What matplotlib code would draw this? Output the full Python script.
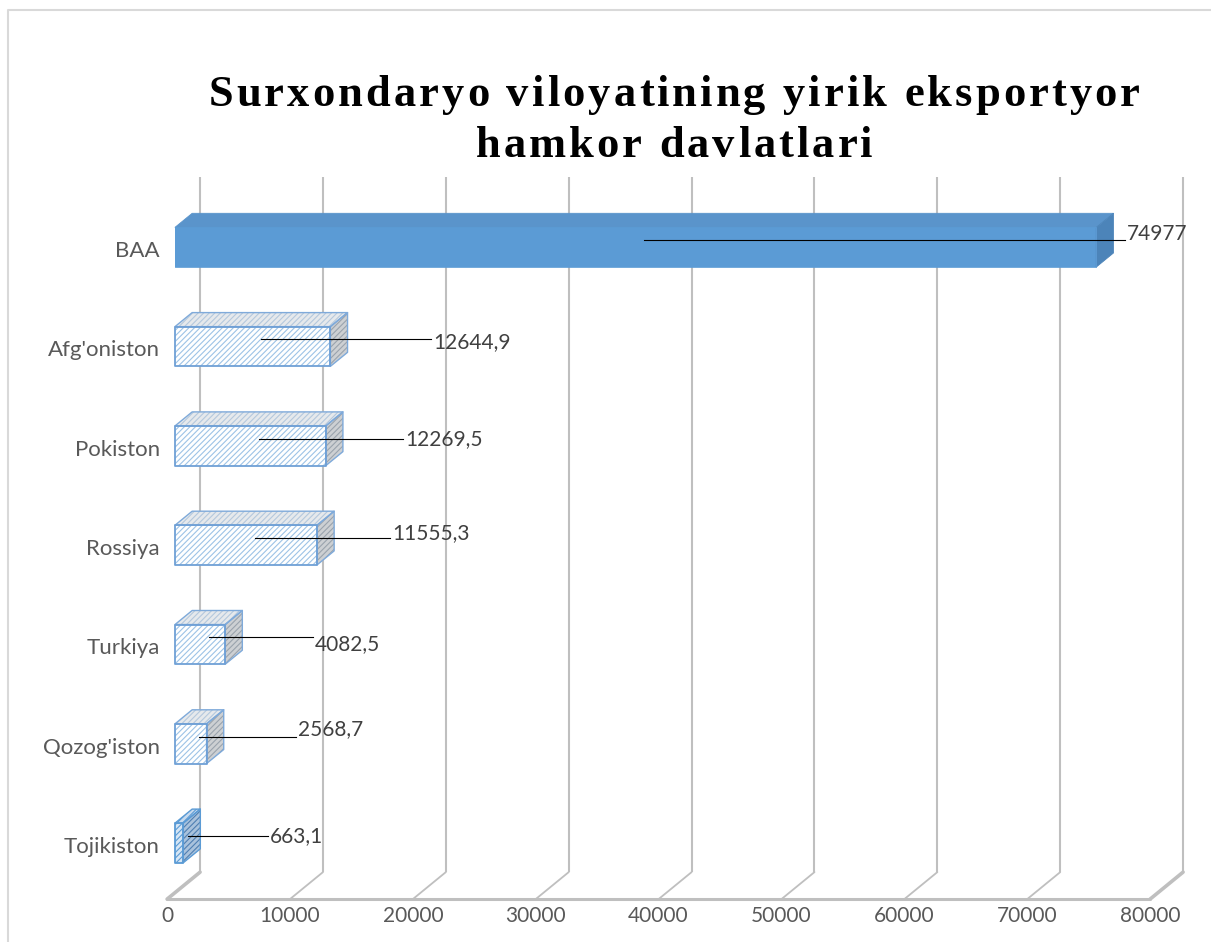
import matplotlib
matplotlib.use("Agg")
import matplotlib.pyplot as plt
from matplotlib.patches import Polygon
from matplotlib.lines import Line2D
from matplotlib.transforms import IdentityTransform
from matplotlib.font_manager import FontProperties, findfont, get_font
from matplotlib.ft2font import LOAD_NO_HINTING

# ---------------- data ----------------
categories = ["BAA", "Afg'oniston", "Pokiston", "Rossiya", "Turkiya",
              "Qozog'iston", "Tojikiston"]
values = [74977, 12644.9, 12269.5, 11555.3, 4082.5, 2568.7, 663.1]
x_ticks = [0, 10000, 20000, 30000, 40000, 50000, 60000, 70000, 80000]
title_lines = ["Surxondaryo viloyatining yirik eksportyor", "hamkor davlatlari"]

# ---------------- layout ----------------
W, H, DPI = 1211, 942, 100
X_MAX = 80000
X0_PX = 175.0                 # pixel x of value 0 on the bar front plane
SX = 983.0 / X_MAX            # pixels per value unit
Y0_PX = 843.0                 # pixel y of lowest category centre (front plane)
SY = 99.3                     # pixels per category step
DPX, DPY = 33.0, 27.0         # full depth offset in pixels
D0, D1 = 0.24, 0.76           # bar front / back depth
HH = 0.2                      # half bar height (category units)
# data-label line end (pixel x) and text vertical offset (pixels, down positive)
LABEL_X_PX = [1125, 431, 403, 390, 313, 296, 268]
LABEL_DY_PX = [-6, 3, 0, -5, 7, -8, 0]
# bar styles
STYLE = ["solid", "hatch", "hatch", "hatch", "hatch", "hatch", "dark"]

plt.rcParams["hatch.linewidth"] = 0.8

fig = plt.figure(figsize=(W / DPI, H / DPI), dpi=DPI)
ax = fig.add_axes([0, 0, 1, 1])
ax.axis("off")
ax.set_xlim(-X0_PX / SX, (W - X0_PX) / SX)
ax.set_ylim((Y0_PX - H) / SY, Y0_PX / SY)

n = len(categories)


def P(v, c, d):
    """value, category position, depth -> data coords"""
    return (v + (d - D0) * DPX / SX, c + (d - D0) * DPY / SY)


GRID = "#BFBFBF"
# back wall gridlines
for t in x_ticks:
    a, b = P(t, -0.5, 1), P(t, n - 0.5, 1)
    ax.plot([a[0], b[0]], [a[1], b[1]], color=GRID, lw=1.5, solid_capstyle="butt", zorder=1)
# floor diagonals
for t in x_ticks:
    a, b = P(t, -0.5, 0), P(t, -0.5, 1)
    lw = 2.6 if t in (x_ticks[0], x_ticks[-1]) else 1.3
    ax.plot([a[0], b[0]], [a[1], b[1]], color=GRID, lw=lw, solid_capstyle="round", zorder=1)
# floor front edge
a, b = P(x_ticks[0], -0.5, 0), P(x_ticks[-1], -0.5, 0)
ax.plot([a[0], b[0]], [a[1], b[1]], color=GRID, lw=2.2, solid_capstyle="round", zorder=1)


def face(pts, bg, hatch=None, hcolor=None, edge=None, elw=1.0, z=3):
    if hatch:
        ax.add_patch(Polygon(pts, closed=True, facecolor=bg, edgecolor=hcolor,
                             hatch=hatch, lw=0, zorder=z))
    else:
        ax.add_patch(Polygon(pts, closed=True, facecolor=bg, edgecolor="none", lw=0, zorder=z))
    if edge:
        ax.add_patch(Polygon(pts, closed=True, fill=False, edgecolor=edge, lw=elw,
                             joinstyle="round", zorder=z + 0.1))


for i, (cat, v) in enumerate(zip(categories, values)):
    c = n - 1 - i
    lo, hi = c - HH, c + HH
    front = [P(0, lo, D0), P(v, lo, D0), P(v, hi, D0), P(0, hi, D0)]
    top = [P(0, hi, D0), P(v, hi, D0), P(v, hi, D1), P(0, hi, D1)]
    side = [P(v, lo, D0), P(v, lo, D1), P(v, hi, D1), P(v, hi, D0)]
    st = STYLE[i]
    if st == "solid":
        face(top, "#5A94CB", edge="#5A94CB", elw=0.6)
        face(side, "#4C84B9", edge="#4C84B9", elw=0.6)
        face(front, "#5B9BD5", edge="#5B9BD5", elw=0.6)
    elif st == "hatch":
        face(top, "#E6E9EC", "//////", "#B4C8DD", edge="#7FAADA", elw=1.0)
        face(side, "#CDD0D3", "//////", "#9AA3AD", edge="#7FAADA", elw=1.0)
        face(front, "white", "//////", "#9DC3E6", edge="#6FA0D6", elw=1.3)
    else:
        face(top, "#C7DAEE", "//////", "#5B9BD5", edge="#5B9BD5", elw=1.0)
        face(side, "#A9C2DC", "//////", "#4F7FB2", edge="#5B9BD5", elw=1.0)
        face(front, "#D6E6F5", "//////", "#5B9BD5", edge="#5B9BD5", elw=1.3)

    # category label
    ax.annotate(cat, xy=P(0, c, D0), xytext=(-15, -4), textcoords="offset pixels",
                ha="right", va="center", fontsize=16, family="Lato", color="#595959")

# tick labels
for t in x_ticks:
    ax.annotate(f"{t}", xy=P(t, -0.5, 0), xytext=(0, -17), textcoords="offset pixels",
                ha="center", va="center", fontsize=15, family="Lato", color="#595959")


def fmt(v):
    if float(v).is_integer():
        return f"{int(v)}"
    return f"{v:.1f}".replace(".", ",")


# data labels with leader lines
for i, v in enumerate(values):
    c = n - 1 - i
    ax_, ay_ = ax.transData.transform(P(v / 2, c, 0.5))
    xe = LABEL_X_PX[i]
    fig.add_artist(Line2D([ax_, xe], [ay_, ay_], transform=IdentityTransform(),
                          color="black", lw=0.8, zorder=6))
    fig.text(xe + 2, ay_ - LABEL_DY_PX[i], fmt(v), transform=IdentityTransform(),
             ha="left", va="center", fontsize=15, family="Lato", color="#404040", zorder=7)

# title with letter spacing
TITLE_SIZE = 32
SPACING = 3.1
TITLE_CX = 674
TITLE_BASE = [106, 157]
fp = FontProperties(family="Liberation Serif", weight="bold", size=TITLE_SIZE)
font = get_font(findfont(fp))
font.set_size(TITLE_SIZE, DPI)


def adv(ch):
    g = font.load_char(ord(ch), flags=LOAD_NO_HINTING)
    return g.linearHoriAdvance / 65536.0


for line, base in zip(title_lines, TITLE_BASE):
    widths = [adv(ch) for ch in line]
    total = sum(widths) + SPACING * (len(line) - 1)
    x = TITLE_CX - total / 2
    for ch, w in zip(line, widths):
        if ch != " ":
            fig.text(x, H - base, ch, transform=IdentityTransform(), ha="left",
                     va="baseline", fontproperties=fp, color="black")
        x += w + SPACING

# chart border
fig.add_artist(Line2D([7.5, 7.5, W], [0, H - 9.5, H - 9.5], transform=IdentityTransform(),
                      color="#D9D9D9", lw=1.5))

fig.savefig("out.png", dpi=DPI)
